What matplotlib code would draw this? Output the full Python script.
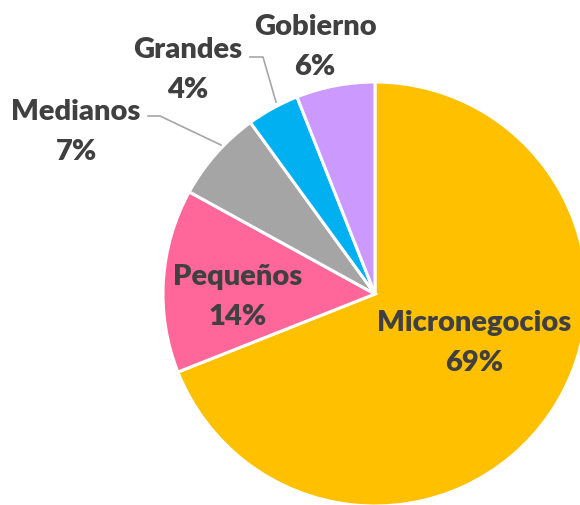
import matplotlib
matplotlib.use('Agg')
import matplotlib.pyplot as plt

# data
labels = ['Micronegocios', 'Pequeños', 'Medianos', 'Grandes', 'Gobierno']
shares = [69, 14, 7, 4, 6]
colors = ['#FFC000', '#FF6699', '#A5A5A5', '#00B0F0', '#CC99FF']

# label block centres in pixel coords (x from left, y from top)
label_pos = [(474, 343), (238, 297), (76, 132), (188, 70), (315, 47)]

W, H = 580, 506
fig = plt.figure(figsize=(W / 100, H / 100), dpi=100)
ax = fig.add_axes([0, 0, 1, 1])

ax.pie(shares, colors=colors, startangle=90, counterclock=False,
       center=(375, H - 295), radius=212,
       wedgeprops=dict(edgecolor='white', linewidth=2.2))
ax.set_xlim(0, W)
ax.set_ylim(0, H)
ax.set_aspect('equal')
ax.axis('off')

# leader lines for the small slices
ax.plot([250, 263, 276], [H - 58, H - 58, H - 103], color='#A6A6A6', lw=1.2)
ax.plot([148, 160, 221], [H - 117, H - 117, H - 146], color='#A6A6A6', lw=1.2)

for name, val, (x, y) in zip(labels, shares, label_pos):
    ax.text(x, H - y, f'{name}\n{val}%', ha='center', va='center',
            fontsize=21, fontweight='heavy', color='#404040',
            family='Lato', linespacing=1.65)

fig.savefig('out.png', dpi=100)
